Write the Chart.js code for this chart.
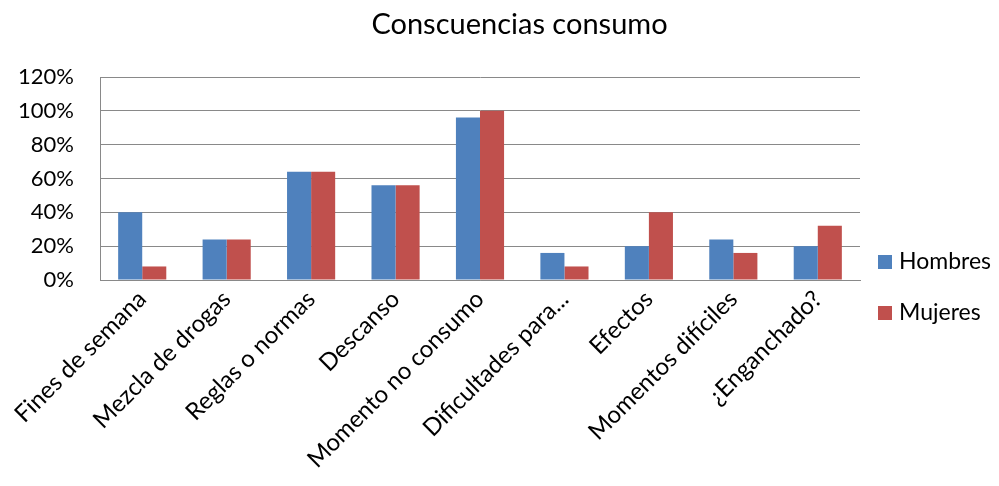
<!DOCTYPE html>
<html>
<head>
<meta charset="utf-8">
<script src="https://cdn.jsdelivr.net/npm/chart.js@4"></script>
<style>
html,body{margin:0;padding:0;background:#fff;}
#wrap{width:999px;height:486px;}
</style>
</head>
<body>
<div id="wrap"><canvas id="c" width="999" height="486"></canvas></div>
<script>
const categories = ["Fines de semana","Mezcla de drogas","Reglas o normas","Descanso","Momento no consumo","Dificultades para...","Efectos","Momentos difíciles","¿Enganchado?"];
const hombres = [40,24,64,56,96,16,20,24,20];
const mujeres = [8,24,64,56,100,8,40,16,32];
const seriesNames = ["Hombres","Mujeres"];
const yTicks = [0,20,40,60,80,100,120];
const chartTitle = 'Conscuencias consumo';
const FONT = "Lato, 'Open Sans', sans-serif";

const decor = {
  id: 'decor',
  afterDraw(chart) {
    const ctx = chart.ctx;
    ctx.save();
    // title
    ctx.font = '29px ' + FONT;
    ctx.fillStyle = '#000';
    ctx.textAlign = 'center';
    ctx.textBaseline = 'middle';
    ctx.fillText(chartTitle, chart.width / 2 + 20, 25);
    // legend
    const x0 = chart.chartArea.right + 18;
    const centers = [262, 313];
    ctx.font = '23px ' + FONT;
    ctx.textAlign = 'left';
    chart.data.datasets.forEach((ds, i) => {
      const cy = centers[i];
      ctx.fillStyle = ds.backgroundColor;
      ctx.fillRect(x0, cy - 7, 14, 14);
      ctx.fillStyle = '#000';
      ctx.fillText(ds.label, x0 + 21, cy);
    });
    ctx.restore();
  }
};

new Chart(document.getElementById('c'), {
  type: 'bar',
  data: {
    labels: categories,
    datasets: [
      {label: seriesNames[0], data: hombres, backgroundColor: '#4F81BD', borderWidth: 0},
      {label: seriesNames[1], data: mujeres, backgroundColor: '#C0504D', borderWidth: 0}
    ]
  },
  plugins: [decor],
  options: {
    responsive: false,
    animation: false,
    devicePixelRatio: 1,
    layout: {padding: {left: 0, right: 139, top: 77, bottom: 0}},
    datasets: {bar: {categoryPercentage: 0.57, barPercentage: 1}},
    plugins: {
      title: {display: false},
      legend: {display: false},
      tooltip: {enabled: false}
    },
    scales: {
      x: {
        grid: {display: false, drawTicks: false},
        border: {display: true, color: '#898989', width: 1},
        ticks: {color: '#000', font: {family: FONT, size: 24}, maxRotation: 45, minRotation: 45, padding: 5, autoSkip: false},
        afterFit: s => { s.height = 206; }
      },
      y: {
        min: 0, max: 120,
        afterBuildTicks: s => { s.ticks = yTicks.map(v => ({value: v})); },
        grid: {color: '#898989', drawTicks: false},
        border: {display: true, color: '#898989', width: 1},
        ticks: {color: '#000', font: {family: FONT, size: 22}, padding: 26, callback: v => v + '%'},
        afterFit: s => { s.width = 100; }
      }
    }
  }
});
</script>
</body>
</html>
